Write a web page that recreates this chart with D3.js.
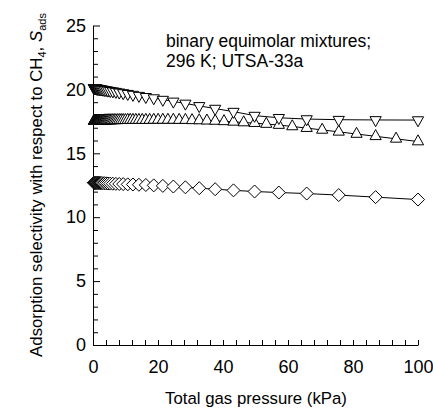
<!DOCTYPE html>
<html><head><meta charset="utf-8">
<script src="https://cdn.jsdelivr.net/npm/d3@7"></script>
<style>
body{margin:0;background:#fff}
svg{display:block}
text{font-family:"Liberation Sans",Arial,Helvetica,sans-serif;fill:#000}
</style>
</head><body>
<svg id="c" width="433" height="409"></svg>
<script>
// Total gas pressure grid (kPa) used by the "down triangle" and "diamond" series
const pressureA = [0.28,0.32,0.37,0.43,0.49,0.57,0.65,0.75,0.86,0.99,
  1.14,1.31,1.51,1.74,2.00,2.30,2.64,3.04,3.49,4.02,
  4.62,5.31,6.11,7.03,8.08,9.29,10.69,12.29,14.13,16.25,
  18.69,21.49,24.72,28.43,32.69,37.59,43.23,49.72,57.18,65.75,
  75.61,86.96,100];
const selDown = [20.11,20.11,20.11,20.11,20.11,20.10,20.10,20.10,20.10,20.10,
  20.07,20.06,20.06,20.05,20.04,20.02,20.01,19.99,19.97,19.95,
  19.92,19.89,19.86,19.82,19.77,19.72,19.66,19.59,19.51,19.42,
  19.32,19.20,19.06,18.90,18.71,18.50,18.26,17.95,17.78,17.68,
  17.63,17.61,17.60];
const selDiamond = [12.70,12.70,12.70,12.70,12.70,12.70,12.69,12.69,12.69,12.69,
  12.69,12.69,12.68,12.68,12.68,12.67,12.67,12.66,12.66,12.65,
  12.64,12.63,12.62,12.61,12.60,12.59,12.57,12.56,12.54,12.52,
  12.49,12.45,12.40,12.34,12.27,12.19,12.10,12.01,11.93,11.85,
  11.73,11.57,11.38];
// Denser pressure grid used by the "up triangle" series
const pressureB = [0.30,0.345,0.40,0.46,0.49,0.53,0.57,0.61,0.65,0.70,0.75,0.80,0.86,0.92,0.99,
  1.06,1.14,1.22,1.31,1.41,1.51,1.62,1.74,1.86,
  2.00,2.14,2.30,2.46,2.64,2.83,
  3.04,3.25,3.49,3.75,4.02,
  4.31,4.62,4.95,5.31,5.70,6.11,
  6.56,7.03,7.53,8.08,8.66,9.29,9.97,
  10.69,11.46,12.29,13.18,14.13,15.15,16.25,
  17.43,18.69,20.04,21.49,23.05,24.72,26.51,28.43,
  30.48,32.69,35.05,37.59,40.31,43.23,46.36,49.72,53.32,57.18,61.31,65.75,70.51,75.61,81.09,86.96,93.25,100];
const selUp = [17.53,17.53,17.53,17.53,17.53,17.53,17.53,17.53,17.53,17.53,17.53,17.53,17.53,17.53,17.53,
  17.53,17.53,17.53,17.54,17.54,17.54,17.54,17.54,17.54,
  17.55,17.55,17.55,17.55,17.55,17.55,
  17.55,17.55,17.56,17.56,17.56,
  17.56,17.57,17.57,17.57,17.57,17.58,
  17.58,17.58,17.58,17.59,17.59,17.59,17.59,
  17.60,17.60,17.60,17.60,17.60,17.60,17.60,
  17.60,17.61,17.61,17.61,17.61,17.61,17.60,17.60,
  17.58,17.57,17.55,17.53,17.50,17.46,17.41,17.36,17.29,17.21,17.10,16.97,16.83,16.68,16.51,16.33,16.13,15.92];

const xTickLabels = [0,20,40,60,80,100];
const yTickLabels = [0,5,10,15,20,25];
const annotationLines = ["binary equimolar mixtures;","296 K; UTSA-33a"];
const xTitle = "Total gas pressure (kPa)";

const svg = d3.select("#c");
const x = d3.scaleLinear().domain([0,100]).range([93,418]);
const y = d3.scaleLinear().domain([0,25]).range([345,25.5]);

// axes
const xAxis = d3.axisBottom(x).tickValues(d3.range(0,101,4)).tickSizeInner(-5).tickSizeOuter(0)
  .tickPadding(15).tickFormat(d => xTickLabels.includes(d) ? d : "");
const gx = svg.append("g").attr("transform","translate(0,"+y(0)+")").call(xAxis);
gx.selectAll("text").style("font-size","18px");

const yMinor = d3.axisLeft(y).tickValues(d3.range(0,26,1).filter(v=>!yTickLabels.includes(v)))
  .tickSizeInner(-5).tickSizeOuter(0).tickFormat("");
const gyMinor = svg.append("g").attr("transform","translate("+x(0)+",0)").call(yMinor);
gyMinor.select(".domain").remove();
const yMajor = d3.axisLeft(y).tickValues(yTickLabels).tickSizeInner(-7).tickSizeOuter(0).tickPadding(7);
const gy = svg.append("g").attr("transform","translate("+x(0)+",0)").call(yMajor);
gy.selectAll("text").style("font-size","18px");
svg.selectAll(".domain,.tick line").attr("stroke","#000").attr("stroke-width",1);
svg.selectAll(".tick text").attr("fill","#000");

// series
const sDiamond = pressureA.map((p,i)=>({p, s: selDiamond[i]}));
const sDown = pressureA.map((p,i)=>({p, s: selDown[i]}));
const sUp = pressureB.map((p,i)=>({p, s: selUp[i]}));

const diamondPath = "M0,-6.5L6.5,0L0,6.5L-6.5,0Z";
const upPath = "M0,-6.7L5.6,3.3L-5.6,3.3Z";
const downPath = "M0,6.7L5.6,-3.3L-5.6,-3.3Z";

const line = d3.line().x(d=>x(d.p)).y(d=>y(d.s));
function drawSeries(data, shape){
  const g = svg.append("g");
  g.append("path").datum(data).attr("d",line).attr("fill","none").attr("stroke","#000").attr("stroke-width",1);
  g.selectAll("path.m").data(data).join("path").attr("class","m")
    .attr("d",shape).attr("transform",d=>"translate("+x(d.p)+","+y(d.s)+")")
    .attr("fill","#fff").attr("stroke","#000").attr("stroke-width",1);
}
drawSeries(sDiamond, diamondPath);
drawSeries(sUp, upPath);
drawSeries(sDown, downPath);

// annotation
const ann = svg.append("text").style("font-size","17.5px");
annotationLines.forEach((t,i)=>ann.append("tspan").attr("x",166).attr("y",47+i*19.5).text(t));

// axis titles
svg.append("text").attr("x",256).attr("y",404).attr("text-anchor","middle").style("font-size","16.8px").text(xTitle);
const yt = svg.append("text").attr("transform","translate(42,185) rotate(-90)")
  .attr("text-anchor","middle").style("font-size","16.8px");
yt.append("tspan").text("Adsorption selectivity with respect to CH");
yt.append("tspan").attr("dy",4).style("font-size","11px").text("4");
yt.append("tspan").attr("dy",-4).text(", ");
yt.append("tspan").style("font-style","italic").text("S");
yt.append("tspan").attr("dy",4).style("font-size","11px").text("ads");
</script>
</body></html>
